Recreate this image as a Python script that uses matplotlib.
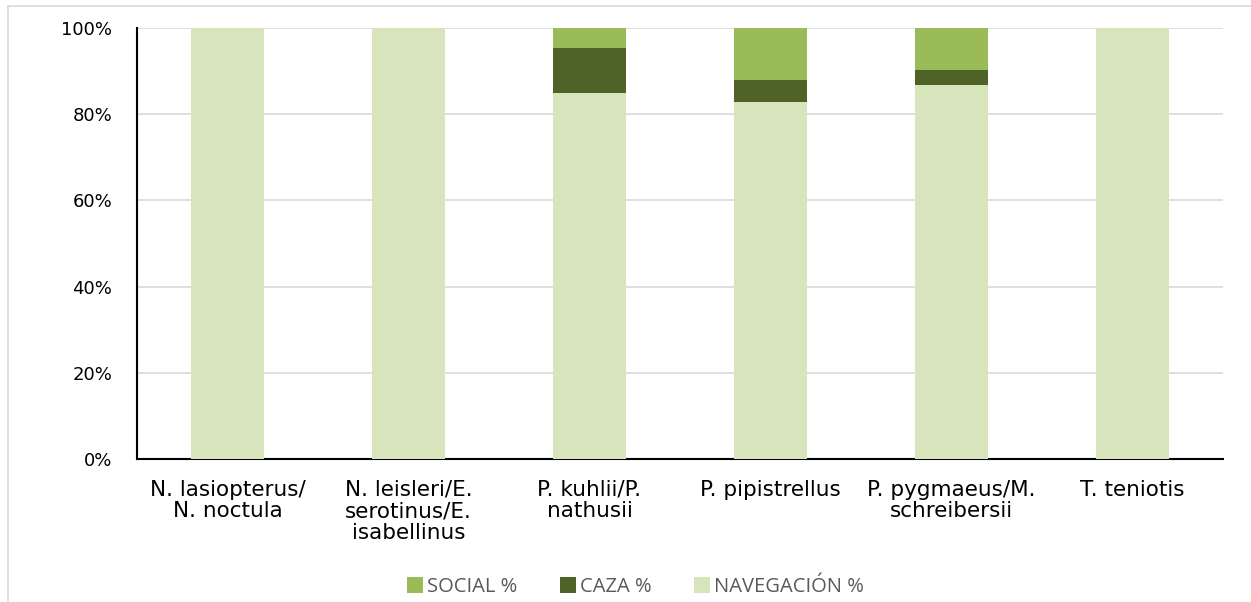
import matplotlib.pyplot as plt
from matplotlib.patches import Rectangle
from matplotlib.ticker import PercentFormatter

especies = ['N. lasiopterus/\nN. noctula', 'N. leisleri/E.\nserotinus/E.\nisabellinus',
            'P. kuhlii/P.\nnathusii', 'P. pipistrellus', 'P. pygmaeus/M.\nschreibersii', 'T. teniotis']
navegacion = [100, 100, 85.0, 82.8, 86.8, 100]
caza = [0, 0, 10.3, 5.1, 3.5, 0]
social = [0, 0, 4.7, 12.1, 9.7, 0]

c_nav = '#d8e4bc'
c_caza = '#4f6228'
c_social = '#9bbb59'

fig = plt.figure(figsize=(12.51, 6.02), dpi=100)
fig.patches.append(Rectangle((8 / 1251, -0.1), 1.2, 1.09, transform=fig.transFigure,
                             fill=False, edgecolor='#d9d9d9', linewidth=1.2))
ax = fig.add_axes([137 / 1251, 1 - 459 / 602, (1223 - 137) / 1251, (459 - 28) / 602])

x = range(len(especies))
base2 = [n + c for n, c in zip(navegacion, caza)]
ax.bar(x, navegacion, width=0.4, color=c_nav, label='NAVEGACIÓN %', zorder=3)
ax.bar(x, caza, width=0.4, bottom=navegacion, color=c_caza, label='CAZA %', zorder=3)
ax.bar(x, social, width=0.4, bottom=base2, color=c_social, label='SOCIAL %', zorder=3)

ax.set_xlim(-0.5, len(especies) - 0.5)
ax.set_ylim(0, 100)
ax.set_yticks([0, 20, 40, 60, 80, 100])
ax.yaxis.set_major_formatter(PercentFormatter(decimals=0))
ax.grid(axis='y', color='#d9d9d9', linewidth=1.2, zorder=0)
ax.set_xticks(list(x))
ax.set_xticklabels(especies, fontsize=15.5, family='DejaVu Sans', linespacing=1.1, va='top')
ax.tick_params(axis='y', labelsize=13, length=0, pad=18)
ax.tick_params(axis='x', length=0, pad=15)
for s in ['top', 'right']:
    ax.spines[s].set_visible(False)
ax.spines['left'].set_color('black')
ax.spines['bottom'].set_color('black')
ax.spines['left'].set_linewidth(1.5)
ax.spines['bottom'].set_linewidth(1.5)

h, l = ax.get_legend_handles_labels()
leg = fig.legend(h[::-1], l[::-1], loc='center', bbox_to_anchor=(0.508, 1 - 587 / 602), ncol=3,
                 frameon=False, handlelength=0.8, handleheight=0.8,
                 handletextpad=0.2, columnspacing=2.1, prop={'family': 'Open Sans', 'size': 14.5})
for t in leg.get_texts():
    t.set_color('#595959')

fig.savefig('out.png', dpi=100)
